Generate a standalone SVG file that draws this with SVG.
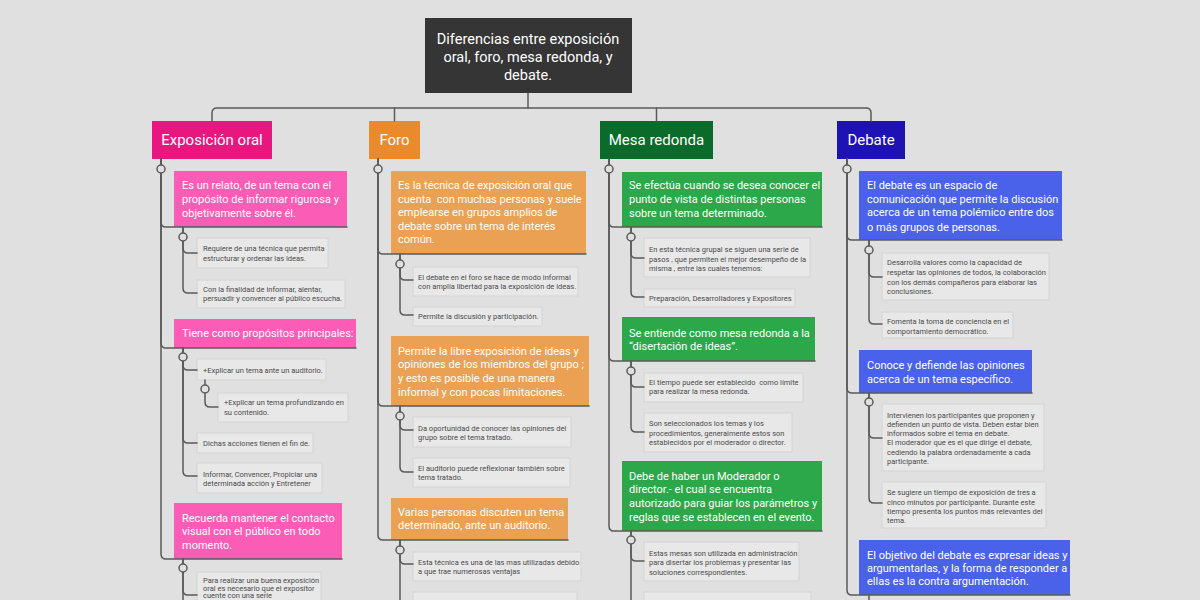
<svg xmlns="http://www.w3.org/2000/svg" width="1200" height="600" viewBox="0 0 1200 600">
<style>
.bg{fill:#e0e0e0}
.t{font-family:Roboto,"Liberation Sans",sans-serif;fill:#fff}
.root{fill:#353535}
.rt{font-size:14.5px;text-anchor:middle}
.mt{font-size:15px;text-anchor:middle}
.ct{font-size:11px}
.sb{fill:#e8e8e8;stroke:#d4d4d4;stroke-width:1}
.st{font-family:Roboto,"Liberation Sans",sans-serif;font-size:7.5px;fill:#4a4a4a}
.m1{fill:#e8177f}.c1{fill:#fb5db6}
.m2{fill:#e98a2d}.c2{fill:#eba154}
.m3{fill:#0b6b2b}.c3{fill:#2ca84a}
.m4{fill:#1e12b4}.c4{fill:#4a62ea}
.cn path{fill:none;stroke:#5a5a5a;stroke-width:1.5;stroke-linecap:round}
.cn circle{fill:#e0e0e0;stroke:#5a5a5a;stroke-width:1.5}
</style>
<rect class="bg" x="0" y="0" width="1200" height="600"/>

<g id="root">
<rect class="root" x="425" y="18" width="207" height="75"/>
<text class="t rt" x="528" y="44">Diferencias entre exposición</text>
<text class="t rt" x="528" y="62">oral, foro, mesa redonda, y</text>
<text class="t rt" x="528" y="80">debate.</text>
</g>

<g id="exposicion">
<rect class="m1" x="152" y="121" width="120" height="38"/>
<text class="t mt" x="212" y="145">Exposición oral</text>
</g>
<g id="foro">
<rect class="m2" x="369" y="121" width="51" height="38"/>
<text class="t mt" x="394.5" y="145">Foro</text>
</g>
<g id="mesa">
<rect class="m3" x="600" y="121" width="113" height="38"/>
<text class="t mt" x="656.5" y="145">Mesa redonda</text>
</g>
<g id="debate">
<rect class="m4" x="837" y="121" width="68" height="38"/>
<text class="t mt" x="871" y="145">Debate</text>
</g>

<!-- Column 1 -->
<g id="a1">
<rect class="c1" x="174" y="171" width="173" height="56"/>
<text class="t ct" x="182" y="189">Es un relato, de un tema con el</text>
<text class="t ct" x="182" y="203">propósito de informar rigurosa y</text>
<text class="t ct" x="182" y="217">objetivamente sobre él.</text>
</g>
<g id="a1a">
<rect class="sb" x="197" y="238" width="131" height="30"/>
<text class="st" x="203" y="251">Requiere de una técnica que permita</text>
<text class="st" x="203" y="261">estructurar y ordenar las ideas.</text>
</g>
<g id="a1b">
<rect class="sb" x="197" y="280" width="148" height="28"/>
<text class="st" x="203" y="292">Con la finalidad de informar, alentar,</text>
<text class="st" x="203" y="301">persuadir y convencer al público escucha.</text>
</g>
<g id="a2">
<rect class="c1" x="174" y="319" width="182" height="29"/>
<text class="t ct" x="182" y="337">Tiene como propósitos principales:</text>
</g>
<g id="a2a">
<rect class="sb" x="197" y="359" width="129" height="21"/>
<text class="st" x="203" y="373">+Explicar un tema ante un auditorio.</text>
</g>
<g id="a2a1">
<rect class="sb" x="218" y="393" width="130" height="29"/>
<text class="st" x="224" y="405">+Explicar un tema profundizando en</text>
<text class="st" x="224" y="415">su contenido.</text>
</g>
<g id="a2b">
<rect class="sb" x="197" y="433" width="116" height="20"/>
<text class="st" x="203" y="446">Dichas acciones tienen el fin de.</text>
</g>
<g id="a2c">
<rect class="sb" x="197" y="463" width="125" height="30"/>
<text class="st" x="203" y="477">Informar, Convencer, Propiciar una</text>
<text class="st" x="203" y="486">determinada acción y Entretener</text>
</g>
<g id="a3">
<rect class="c1" x="174" y="503" width="168" height="56"/>
<text class="t ct" x="182" y="522">Recuerda mantener el contacto</text>
<text class="t ct" x="182" y="535">visual con el público en todo</text>
<text class="t ct" x="182" y="549">momento.</text>
</g>
<g id="a3a">
<rect class="sb" x="197" y="572" width="124" height="40"/>
<text class="st" x="203" y="583">Para realizar una buena exposición</text>
<text class="st" x="203" y="591">oral es necesario que el expositor</text>
<text class="st" x="203" y="598">cuente con una serie</text>
</g>

<!-- Column 2 -->
<g id="b1">
<rect class="c2" x="391" y="171" width="195" height="83"/>
<text class="t ct" x="398" y="189">Es la técnica de exposición oral que</text>
<text class="t ct" x="398" y="203" xml:space="preserve">cuenta  con muchas personas y suele</text>
<text class="t ct" x="398" y="216">emplearse en grupos amplios de</text>
<text class="t ct" x="398" y="230">debate sobre un tema de interés</text>
<text class="t ct" x="398" y="243">común.</text>
</g>
<g id="b1a">
<rect class="sb" x="413" y="267" width="165" height="29"/>
<text class="st" x="418" y="280">El debate en el foro se hace de modo informal</text>
<text class="st" x="418" y="289">con amplia libertad para la exposición de ideas.</text>
</g>
<g id="b1b">
<rect class="sb" x="413" y="307" width="129" height="19"/>
<text class="st" x="418" y="319">Permite la discusión y participación.</text>
</g>
<g id="b2">
<rect class="c2" x="391" y="336" width="198" height="70"/>
<text class="t ct" x="398" y="355">Permite la libre exposición de ideas y</text>
<text class="t ct" x="398" y="368">opiniones de los miembros del grupo ;</text>
<text class="t ct" x="398" y="382">y esto es posible de una manera</text>
<text class="t ct" x="398" y="396">informal y con pocas limitaciones.</text>
</g>
<g id="b2a">
<rect class="sb" x="413" y="417" width="158" height="30"/>
<text class="st" x="418" y="431">Da oportunidad de conocer las opiniones del</text>
<text class="st" x="418" y="440">grupo sobre el tema tratado.</text>
</g>
<g id="b2b">
<rect class="sb" x="413" y="458" width="157" height="29"/>
<text class="st" x="418" y="471">El auditorio puede reflexionar también sobre</text>
<text class="st" x="418" y="480">tema tratado.</text>
</g>
<g id="b3">
<rect class="c2" x="391" y="498" width="177" height="42"/>
<text class="t ct" x="398" y="516">Varias personas discuten un tema</text>
<text class="t ct" x="398" y="529">determinado, ante un auditorio.</text>
</g>
<g id="b3a">
<rect class="sb" x="413" y="552" width="168" height="29"/>
<text class="st" x="418" y="565">Esta técnica es una de las mas utilizadas debido</text>
<text class="st" x="418" y="574">a que trae numerosas ventajas</text>
</g>
<g id="b3b">
<rect class="sb" x="413" y="592" width="164" height="20"/>
</g>

<!-- Column 3 -->
<g id="c1">
<rect class="c3" x="622" y="172" width="200" height="55"/>
<text class="t ct" x="629" y="189">Se efectúa cuando se desea conocer el</text>
<text class="t ct" x="629" y="203">punto de vista de distintas personas</text>
<text class="t ct" x="629" y="217">sobre un tema determinado.</text>
</g>
<g id="c1a">
<rect class="sb" x="644" y="238" width="166" height="39"/>
<text class="st" x="649" y="252">En esta técnica grupal se siguen una serie de</text>
<text class="st" x="649" y="262">pasos , que permiten el mejor desempeño de la</text>
<text class="st" x="649" y="271">misma , entre las cuales tenemos:</text>
</g>
<g id="c1b">
<rect class="sb" x="644" y="289" width="151" height="18"/>
<text class="st" x="649" y="301">Preparación, Desarrolladores y Expositores</text>
</g>
<g id="c2">
<rect class="c3" x="622" y="317" width="193" height="44"/>
<text class="t ct" x="629" y="337">Se entiende como mesa redonda a la</text>
<text class="t ct" x="629" y="350">“disertación de ideas”.</text>
</g>
<g id="c2a">
<rect class="sb" x="644" y="373" width="159" height="29"/>
<text class="st" x="649" y="385" xml:space="preserve">El tiempo puede ser establecido  como límite</text>
<text class="st" x="649" y="394">para realizar la mesa redonda.</text>
</g>
<g id="c2b">
<rect class="sb" x="644" y="413" width="148" height="39"/>
<text class="st" x="649" y="426">Son seleccionados los temas y los</text>
<text class="st" x="649" y="436">procedimientos, generalmente estos son</text>
<text class="st" x="649" y="445">establecidos por el moderador o director.</text>
</g>
<g id="c3">
<rect class="c3" x="622" y="461" width="200" height="70"/>
<text class="t ct" x="629" y="480">Debe de haber un Moderador o</text>
<text class="t ct" x="629" y="493">director.- el cual se encuentra</text>
<text class="t ct" x="629" y="507">autorizado para guiar los parámetros y</text>
<text class="t ct" x="629" y="521">reglas que se establecen en el evento.</text>
</g>
<g id="c3a">
<rect class="sb" x="644" y="542" width="155" height="39"/>
<text class="st" x="649" y="556">Estas mesas son utilizada en administración</text>
<text class="st" x="649" y="565">para disertar los problemas y presentar las</text>
<text class="st" x="649" y="575">soluciones correspondientes.</text>
</g>
<g id="c3b">
<rect class="sb" x="644" y="592" width="167" height="20"/>
</g>

<!-- Column 4 -->
<g id="d1">
<rect class="c4" x="859" y="171" width="203" height="69"/>
<text class="t ct" x="867" y="189">El debate es un espacio de</text>
<text class="t ct" x="867" y="203">comunicación que permite la discusión</text>
<text class="t ct" x="867" y="216">acerca de un tema polémico entre dos</text>
<text class="t ct" x="867" y="231">o más grupos de personas.</text>
</g>
<g id="d1a">
<rect class="sb" x="882" y="253" width="167" height="47"/>
<text class="st" x="887" y="265">Desarrolla valores como la capacidad de</text>
<text class="st" x="887" y="275">respetar las opiniones de todos, la colaboración</text>
<text class="st" x="887" y="285">con los demás compañeros para elaborar las</text>
<text class="st" x="887" y="294">conclusiones.</text>
</g>
<g id="d1b">
<rect class="sb" x="882" y="312" width="131" height="26"/>
<text class="st" x="887" y="324">Fomenta la toma de conciencia en el</text>
<text class="st" x="887" y="334">comportamiento democrático.</text>
</g>
<g id="d2">
<rect class="c4" x="859" y="350" width="173" height="43"/>
<text class="t ct" x="867" y="369">Conoce y defiende las opiniones</text>
<text class="t ct" x="867" y="383">acerca de un tema específico.</text>
</g>
<g id="d2a">
<rect class="sb" x="882" y="404" width="162" height="67"/>
<text class="st" x="887" y="418">Intervienen los participantes que proponen y</text>
<text class="st" x="887" y="427">defienden un punto de vista. Deben estar bien</text>
<text class="st" x="887" y="436">informados sobre el tema en debate.</text>
<text class="st" x="887" y="445">El moderador que es el que dirige el debate,</text>
<text class="st" x="887" y="455">cediendo la palabra ordenadamente a cada</text>
<text class="st" x="887" y="464">participante.</text>
</g>
<g id="d2b">
<rect class="sb" x="882" y="482" width="164" height="46"/>
<text class="st" x="887" y="495">Se sugiere un tiempo de exposición de tres a</text>
<text class="st" x="887" y="505">cinco minutos por participante. Durante este</text>
<text class="st" x="887" y="514">tiempo presenta los puntos más relevantes del</text>
<text class="st" x="887" y="523">tema.</text>
</g>
<g id="d3">
<rect class="c4" x="859" y="540" width="211" height="55"/>
<text class="t ct" x="867" y="559">El objetivo del debate es expresar ideas y</text>
<text class="t ct" x="867" y="572">argumentarlas, y la forma de responder a</text>
<text class="t ct" x="867" y="585">ellas es la contra argumentación.</text>
</g>

<g id="connectors" class="cn">
<path d="M528,93 V108"/>
<path d="M212,121 V113 Q212,108 217,108 H866 Q871,108 871,113 V121"/>
<path d="M394.5,108 V121"/>
<path d="M656.5,108 V121"/>

<path d="M161,159 V222 Q161,227 166,227 H347"/>
<path d="M161,159 V343 Q161,348 166,348 H356"/>
<path d="M161,159 V554 Q161,559 166,559 H342"/>
<path d="M183,227 V248 Q183,253 188,253 H197"/>
<path d="M183,227 V288 Q183,293 188,293 H197"/>
<path d="M183,348 V365 Q183,370 188,370 H197"/>
<path d="M183,348 V438 Q183,443 188,443 H197"/>
<path d="M183,348 V471 Q183,476 188,476 H197"/>
<path d="M205,380 V402 Q205,407 210,407 H218"/>
<path d="M183,559 V590 Q183,595 188,595 H197"/>
<path d="M183,559 V600"/>

<path d="M378,159 V249 Q378,254 383,254 H586"/>
<path d="M378,159 V401 Q378,406 383,406 H589"/>
<path d="M378,159 V535 Q378,540 383,540 H568"/>
<path d="M400,254 V275 Q400,280 405,280 H413"/>
<path d="M400,254 V310 Q400,315 405,315 H413"/>
<path d="M400,406 V425 Q400,430 405,430 H413"/>
<path d="M400,406 V467 Q400,472 405,472 H413"/>
<path d="M400,540 V559 Q400,564 405,564 H413"/>
<path d="M400,540 V600"/>

<path d="M609,159 V222 Q609,227 614,227 H822"/>
<path d="M609,159 V356 Q609,361 614,361 H815"/>
<path d="M609,159 V526 Q609,531 614,531 H822"/>
<path d="M631,227 V253 Q631,258 636,258 H644"/>
<path d="M631,227 V292 Q631,297 636,297 H644"/>
<path d="M631,361 V382 Q631,387 636,387 H644"/>
<path d="M631,361 V427 Q631,432 636,432 H644"/>
<path d="M631,531 V556 Q631,561 636,561 H644"/>
<path d="M631,531 V600"/>

<path d="M847,159 V235 Q847,240 852,240 H1062"/>
<path d="M847,159 V388 Q847,393 852,393 H1032"/>
<path d="M847,159 V590 Q847,595 852,595 H1070"/>
<path d="M869,240 V272 Q869,277 874,277 H882"/>
<path d="M869,240 V319 Q869,324 874,324 H882"/>
<path d="M869,393 V433 Q869,438 874,438 H882"/>
<path d="M869,393 V498 Q869,503 874,503 H882"/>
<path d="M869,595 V600"/>

<circle cx="161" cy="169" r="4"/>
<circle cx="183" cy="237" r="4"/>
<circle cx="183" cy="357" r="4"/>
<circle cx="205" cy="389" r="4"/>
<circle cx="183" cy="568" r="4"/>
<circle cx="378" cy="169" r="4"/>
<circle cx="400" cy="264" r="4"/>
<circle cx="400" cy="416" r="4"/>
<circle cx="400" cy="550" r="4"/>
<circle cx="609" cy="169" r="4"/>
<circle cx="631" cy="237" r="4"/>
<circle cx="631" cy="371" r="4"/>
<circle cx="631" cy="540" r="4"/>
<circle cx="847" cy="169" r="4"/>
<circle cx="869" cy="250" r="4"/>
<circle cx="869" cy="402" r="4"/>
</g>
</svg>
